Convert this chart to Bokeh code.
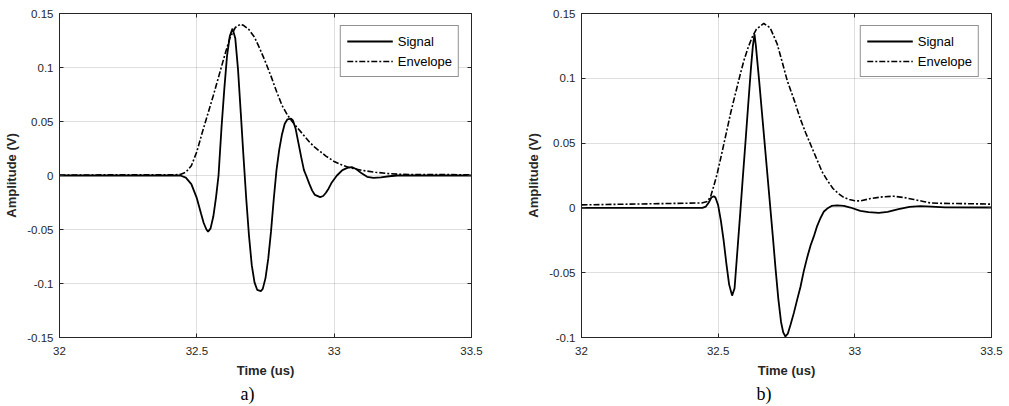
from bokeh.plotting import figure
from bokeh.layouts import row
from bokeh.models import LinearAxis, FixedTicker, Title, Range1d, CustomLabelingPolicy
from bokeh.embed import file_html
from bokeh.resources import INLINE

# ---------------- data ----------------
x_ticks = [32, 32.5, 33, 33.5]
x_tick_labels = ["32", "32.5", "33", "33.5"]

a_y_ticks = [-0.15, -0.1, -0.05, 0, 0.05, 0.1, 0.15]
a_y_tick_labels = ["-0.15", "-0.1", "-0.05", "0", "0.05", "0.1", "0.15"]
b_y_ticks = [-0.1, -0.05, 0, 0.05, 0.1, 0.15]
b_y_tick_labels = ["-0.1", "-0.05", "0", "0.05", "0.1", "0.15"]

series_names = ["Signal", "Envelope"]
panel_labels = ["a)", "b)"]

a_signal_t = [32.00, 32.44, 32.46, 32.48, 32.50, 32.515, 32.525, 32.535, 32.541, 32.55, 32.56,
              32.57, 32.579, 32.59, 32.60, 32.61, 32.62, 32.63, 32.64, 32.65, 32.66, 32.67,
              32.68, 32.69, 32.70, 32.71, 32.72, 32.733, 32.74, 32.75, 32.76, 32.77, 32.78,
              32.79, 32.80, 32.81, 32.82, 32.83, 32.843, 32.85, 32.86, 32.87, 32.88, 32.89,
              32.898, 32.91, 32.92, 32.93, 32.949, 32.96, 32.97, 32.98, 32.99, 33.01, 33.03,
              33.05, 33.064, 33.08, 33.10, 33.12, 33.143, 33.17, 33.20, 33.23, 33.50]
a_signal_v = [0.0, 0.0, -0.002, -0.008, -0.021, -0.035, -0.044, -0.050, -0.052, -0.049, -0.038,
              -0.020, 0.000, 0.045, 0.080, 0.111, 0.129, 0.136, 0.127, 0.098, 0.058, 0.017,
              -0.022, -0.056, -0.083, -0.099, -0.106, -0.107, -0.105, -0.095, -0.077, -0.052, -0.022,
              0.005, 0.024, 0.038, 0.048, 0.052, 0.0526, 0.051, 0.043, 0.030, 0.017, 0.005,
              0.0, -0.008, -0.014, -0.018, -0.020, -0.019, -0.016, -0.012, -0.007, 0.0, 0.005,
              0.0073, 0.0077, 0.006, 0.002, -0.0012, -0.0022, -0.0017, -0.0007, 0.0, 0.0]

a_env_t = [32.00, 32.42, 32.44, 32.46, 32.48, 32.50, 32.52, 32.54, 32.56, 32.58, 32.60, 32.62,
           32.64, 32.658, 32.67, 32.69, 32.71, 32.73, 32.75, 32.77, 32.79, 32.81, 32.83, 32.85,
           32.87, 32.89, 32.91, 32.93, 32.95, 32.97, 33.00, 33.03, 33.06, 33.10, 33.15, 33.20,
           33.25, 33.50]
a_env_v = [0.0005, 0.0006, 0.001, 0.003, 0.009, 0.022, 0.040, 0.057, 0.074, 0.092, 0.110, 0.127,
           0.137, 0.140, 0.139, 0.135, 0.128, 0.117, 0.105, 0.092, 0.078, 0.065, 0.056, 0.049,
           0.043, 0.037, 0.031, 0.026, 0.022, 0.018, 0.013, 0.0095, 0.007, 0.0048, 0.003, 0.0017,
           0.001, 0.0007]

b_signal_t = [32.00, 32.442, 32.455, 32.465, 32.475, 32.484, 32.49, 32.50, 32.51, 32.52, 32.53,
              32.54, 32.551, 32.56, 32.57, 32.58, 32.59, 32.60, 32.61, 32.62, 32.627, 32.633,
              32.638, 32.643, 32.65, 32.66, 32.67, 32.68, 32.69, 32.70, 32.71, 32.72, 32.73,
              32.738, 32.746, 32.755, 32.765, 32.777, 32.79, 32.801, 32.813, 32.826, 32.838,
              32.85, 32.862, 32.874, 32.886, 32.899, 32.915, 32.935, 32.96, 32.984, 33.02, 33.05,
              33.088, 33.12, 33.16, 33.20, 33.24, 33.28, 33.33, 33.50]
b_signal_v = [0.0, 0.0, 0.001, 0.004, 0.008, 0.009, 0.008, 0.002, -0.010, -0.025, -0.043,
              -0.059, -0.0677, -0.062, -0.034, -0.006, 0.023, 0.051, 0.080, 0.108, 0.125, 0.134,
              0.125, 0.1136, 0.098, 0.074, 0.050, 0.026, 0.002, -0.022, -0.047, -0.070, -0.088,
              -0.096, -0.0992, -0.097, -0.090, -0.081, -0.070, -0.061, -0.049, -0.038, -0.029,
              -0.022, -0.014, -0.008, -0.003, -0.0005, 0.0015, 0.002, 0.0015, 0.0003, -0.0023, -0.0033,
              -0.0038, -0.003, -0.001, 0.0008, 0.0013, 0.001, 0.0004, 0.0003]

b_env_t = [32.00, 32.20, 32.44, 32.46, 32.472, 32.484, 32.496, 32.51, 32.521, 32.533, 32.545,
           32.557, 32.570, 32.582, 32.594, 32.61, 32.624, 32.64, 32.667, 32.69, 32.716, 32.735,
           32.753, 32.78, 32.80, 32.82, 32.84, 32.86, 32.88, 32.90, 32.92, 32.94, 32.96, 32.98,
           33.00, 33.02, 33.057, 33.10, 33.143, 33.18, 33.216, 33.25, 33.277, 33.32, 33.375, 33.50]
b_env_v = [0.0023, 0.003, 0.0038, 0.005, 0.0085, 0.017, 0.026, 0.039, 0.0495, 0.061, 0.0726,
           0.083, 0.094, 0.104, 0.1136, 0.124, 0.1315, 0.138, 0.1423, 0.139, 0.1265, 0.112,
           0.098, 0.082, 0.069, 0.058, 0.048, 0.038, 0.028, 0.021, 0.015, 0.011, 0.008, 0.0065,
           0.0055, 0.0054, 0.0072, 0.0085, 0.009, 0.008, 0.0065, 0.005, 0.0038, 0.0035, 0.0034, 0.0029]

# ---------------- styling ----------------
FONT = "Liberation Sans"
DARK = "#262626"

NO_LABELS = "const idx = [...indices]; for (const i of idx) indices.unset(i); return indices"


def make_panel(width, y_range, y_ticks, y_labels, sig_t, sig_v, env_t, env_v, label,
               border_left, border_right, border_top, label_offset):
    p = figure(width=width, height=406, x_range=Range1d(32, 33.5), y_range=Range1d(*y_range),
               output_backend="svg", toolbar_location=None,
               min_border_left=border_left, min_border_right=border_right,
               min_border_top=border_top, min_border_bottom=69)
    p.background_fill_color = "white"
    p.border_fill_color = "white"
    p.outline_line_color = DARK
    p.outline_line_width = 1

    p.line(sig_t, sig_v, line_color="black", line_width=1.8, legend_label=series_names[0])
    p.line(env_t, env_v, line_color="black", line_width=1.6, line_dash="6 2 2 2",
           legend_label=series_names[1])

    xt = FixedTicker(ticks=x_ticks)
    yt = FixedTicker(ticks=y_ticks)
    xover = {t: s for t, s in zip(x_ticks, x_tick_labels)}
    yover = {t: s for t, s in zip(y_ticks, y_labels)}

    for ax in (p.xaxis[0], p.yaxis[0]):
        ax.axis_line_color = DARK
        ax.major_tick_line_color = DARK
        ax.major_tick_in = 4
        ax.major_tick_out = 0
        ax.minor_tick_line_color = None
        ax.major_label_text_font = FONT
        ax.major_label_text_font_size = "11.5px"
        ax.major_label_text_color = DARK
        ax.axis_label_text_font = FONT
        ax.axis_label_text_font_size = "13px"
        ax.axis_label_text_font_style = "bold"
        ax.axis_label_text_color = DARK

    p.xaxis[0].ticker = xt
    p.xaxis[0].major_label_overrides = xover
    p.xaxis[0].major_label_standoff = 9
    p.xaxis[0].axis_label = "Time (us)"
    p.xaxis[0].axis_label_standoff = 5

    p.yaxis[0].ticker = yt
    p.yaxis[0].major_label_overrides = yover
    p.yaxis[0].major_label_standoff = 6
    p.yaxis[0].axis_label = "Amplitude (V)"
    p.yaxis[0].axis_label_standoff = 5

    p.xgrid[0].ticker = xt
    p.ygrid[0].ticker = yt
    for g in (p.xgrid[0], p.ygrid[0]):
        g.grid_line_color = DARK
        g.grid_line_alpha = 0.15
        g.grid_line_width = 1

    # box ticks on top and right (no labels)
    top = LinearAxis(ticker=xt, major_label_policy=CustomLabelingPolicy(code=NO_LABELS),
                     major_label_text_font_size="0px",
                     axis_line_color=DARK, major_tick_line_color=DARK, major_tick_in=4,
                     major_tick_out=0, minor_tick_line_color=None, major_label_standoff=0)
    right = LinearAxis(ticker=yt, major_label_policy=CustomLabelingPolicy(code=NO_LABELS),
                       major_label_text_font_size="0px",
                       axis_line_color=DARK, major_tick_line_color=DARK, major_tick_in=4,
                       major_tick_out=0, minor_tick_line_color=None, major_label_standoff=0)
    p.add_layout(top, "above")
    p.add_layout(right, "right")

    leg = p.legend[0]
    leg.location = "top_right"
    leg.margin = 12
    leg.padding = 6
    leg.spacing = 2
    leg.glyph_width = 46
    leg.glyph_height = 18
    leg.label_height = 18
    leg.label_standoff = 5
    leg.label_text_font = FONT
    leg.label_text_font_size = "13px"
    leg.label_text_color = "black"
    leg.border_line_color = DARK
    leg.border_line_width = 1
    leg.background_fill_color = "white"
    leg.background_fill_alpha = 1

    p.add_layout(Title(text=label, align="left", offset=label_offset,
                       text_font="Liberation Serif", text_font_size="18px",
                       text_font_style="normal", text_color="black", standoff=2), "below")
    return p


pa = make_panel(500, (-0.15, 0.15), a_y_ticks, a_y_tick_labels, a_signal_t, a_signal_v,
                a_env_t, a_env_v, panel_labels[0], 59, 29, 12, 181)
pb = make_panel(509, (-0.1, 0.15), b_y_ticks, b_y_tick_labels, b_signal_t, b_signal_v,
                b_env_t, b_env_v, panel_labels[1], 81, 18, 13, 175)

layout = row(pa, pb)
open("out.html", "w").write(file_html(layout, INLINE))
